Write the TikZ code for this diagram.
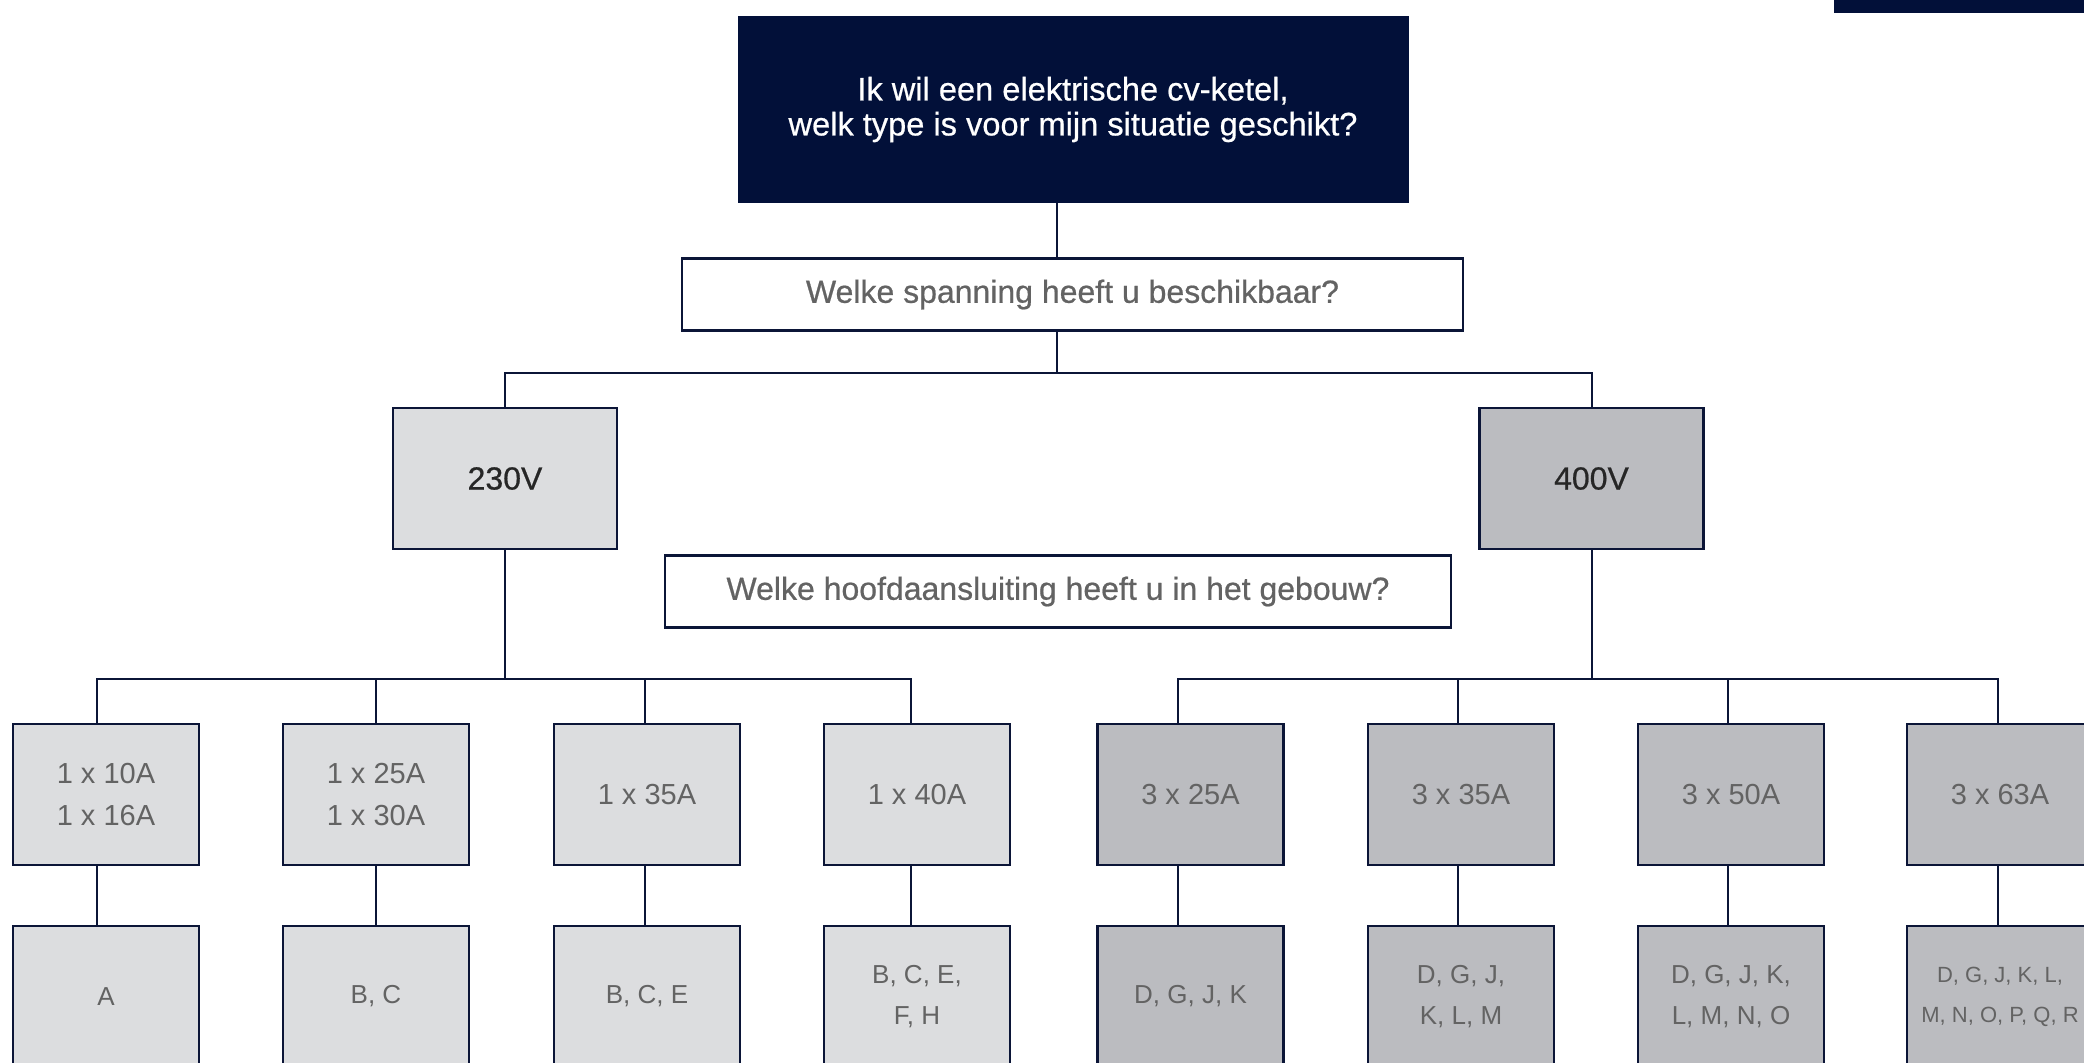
\documentclass[tikz,border=0pt]{standalone}
\usepackage{fontspec}
\setmainfont{Liberation Sans}
\newfontfamily\medfont{Liberation Sans}[FakeBold=0.6]
\usetikzlibrary{positioning}

\definecolor{navy}{HTML}{021039}
\definecolor{edge}{HTML}{0B1537}
\definecolor{lightgrey}{HTML}{DCDDDF}
\definecolor{midgrey}{HTML}{BBBCC0}
\definecolor{textgrey}{HTML}{636363}

\begin{document}
\begin{tikzpicture}[x=0.5pt, y=-0.5pt,
        topnode/.style={fill=navy, text=white, minimum width=335.5pt, minimum height=93.5pt, inner sep=0pt, align=center, font=\medfont\fontsize{16.3}{17.5}\selectfont},
        asknode/.style={draw=edge, line width=1.3pt, fill=white, text=textgrey, minimum height=36pt, inner sep=0pt, font=\medfont\fontsize{16}{19}\selectfont},
        voltnode/.style={draw=edge, line width=1.3pt, text=black!85, minimum width=112pt, minimum height=70.5pt, inner sep=0pt, font=\medfont\fontsize{16}{19}\selectfont},
        ampnode/.style={draw=edge, line width=1.3pt, text=textgrey, minimum width=93pt, minimum height=70.5pt, inner sep=0pt, align=center, font=\fontsize{14.5}{20.8}\selectfont},
        typenode/.style={ampnode, font=\fontsize{13}{20.5}\selectfont},
        link/.style={draw=edge, line width=1.1pt},
        ]

        \useasboundingbox (0,0) rectangle (2084,1062);
        \clip (0,0) rectangle (2084,1062);

        % Bar at the top
        \fill[navy] (1834,0) rectangle (2084,13);

        % Question
        \node[topnode] (top) at (1073,109.5) {Ik wil een elektrische cv-ketel,\\welk type is voor mijn situatie geschikt?};
        \node[asknode, minimum width=390.5pt] (q1) at (1072.5,294.5) {Welke spanning heeft u beschikbaar?};

        % Voltage
        \node[voltnode, fill=lightgrey] (v230) at (505,478.5) {230V};
        \node[voltnode, fill=midgrey] (v400) at (1591.5,478.5) {400V};
        \node[asknode, minimum width=393pt] (q2) at (1058,591.5) {Welke hoofdaansluiting heeft u in het gebouw?};

        % Main connection
        \node[ampnode, fill=lightgrey] (a1) at (106,794.5) {1 x 10A\\1 x 16A};
        \node[ampnode, fill=lightgrey] (a2) at (376,794.5) {1 x 25A\\1 x 30A};
        \node[ampnode, fill=lightgrey] (a3) at (647,794.5) {1 x 35A};
        \node[ampnode, fill=lightgrey] (a4) at (917,794.5) {1 x 40A};
        \node[ampnode, fill=midgrey] (a5) at (1190.5,794.5) {3 x 25A};
        \node[ampnode, fill=midgrey] (a6) at (1461,794.5) {3 x 35A};
        \node[ampnode, fill=midgrey] (a7) at (1731,794.5) {3 x 50A};
        \node[ampnode, fill=midgrey] (a8) at (2000,794.5) {3 x 63A};

        % Types
        \node[typenode, fill=lightgrey] (b1) at (106,996.5) {A};
        \node[typenode, fill=lightgrey] (b2) at (376,996.5) {B, C};
        \node[typenode, fill=lightgrey] (b3) at (647,996.5) {B, C, E};
        \node[typenode, fill=lightgrey] (b4) at (917,996.5) {B, C, E,\\F, H};
        \node[typenode, fill=midgrey] (b5) at (1190.5,996.5) {D, G, J, K};
        \node[typenode, fill=midgrey] (b6) at (1461,996.5) {D, G, J,\\K, L, M};
        \node[typenode, fill=midgrey] (b7) at (1731,996.5) {D, G, J, K,\\L, M, N, O};
        \node[typenode, fill=midgrey, font=\fontsize{11}{20}\selectfont] (b8) at (2000,996.5) {D, G, J, K, L,\\M, N, O, P, Q, R};

        % Junctions
        \coordinate (j0) at (1057,373);
        \coordinate (j1) at (505,679);
        \coordinate (j2) at (1592,679);
        \coordinate (d1) at (97,679);
        \coordinate (d2) at (376,679);
        \coordinate (d3) at (645,679);
        \coordinate (d4) at (911,679);
        \coordinate (d5) at (1178,679);
        \coordinate (d6) at (1458,679);
        \coordinate (d7) at (1728,679);
        \coordinate (d8) at (1998,679);

        % Lines
        \draw[link] (top.south -| j0) -- (q1.north -| j0);
        \draw[link] (q1.south -| j0) -- (j0);
        \draw[link] (j1 |- v230.north) |- (j0) -| (j2 |- v400.north);
        \draw[link] (j1 |- v230.south) -- (j1);
        \draw[link] (j2 |- v400.south) -- (j2);
        \draw[link] (d1 |- a1.north) -- (d1) -- (d4) -- (d4 |- a4.north);
        \draw[link] (d5 |- a5.north) -- (d5) -- (d8) -- (d8 |- a8.north);
        \draw[link] (d2) -- (d2 |- a2.north);
        \draw[link] (d3) -- (d3 |- a3.north);
        \draw[link] (d6) -- (d6 |- a6.north);
        \draw[link] (d7) -- (d7 |- a7.north);

        % Down to the types
        \draw[link] (d1 |- a1.south) -- (d1 |- b1.north);
        \draw[link] (d2 |- a2.south) -- (d2 |- b2.north);
        \draw[link] (d3 |- a3.south) -- (d3 |- b3.north);
        \draw[link] (d4 |- a4.south) -- (d4 |- b4.north);
        \draw[link] (d5 |- a5.south) -- (d5 |- b5.north);
        \draw[link] (d6 |- a6.south) -- (d6 |- b6.north);
        \draw[link] (d7 |- a7.south) -- (d7 |- b7.north);
        \draw[link] (d8 |- a8.south) -- (d8 |- b8.north);

    \end{tikzpicture}
\end{document}
